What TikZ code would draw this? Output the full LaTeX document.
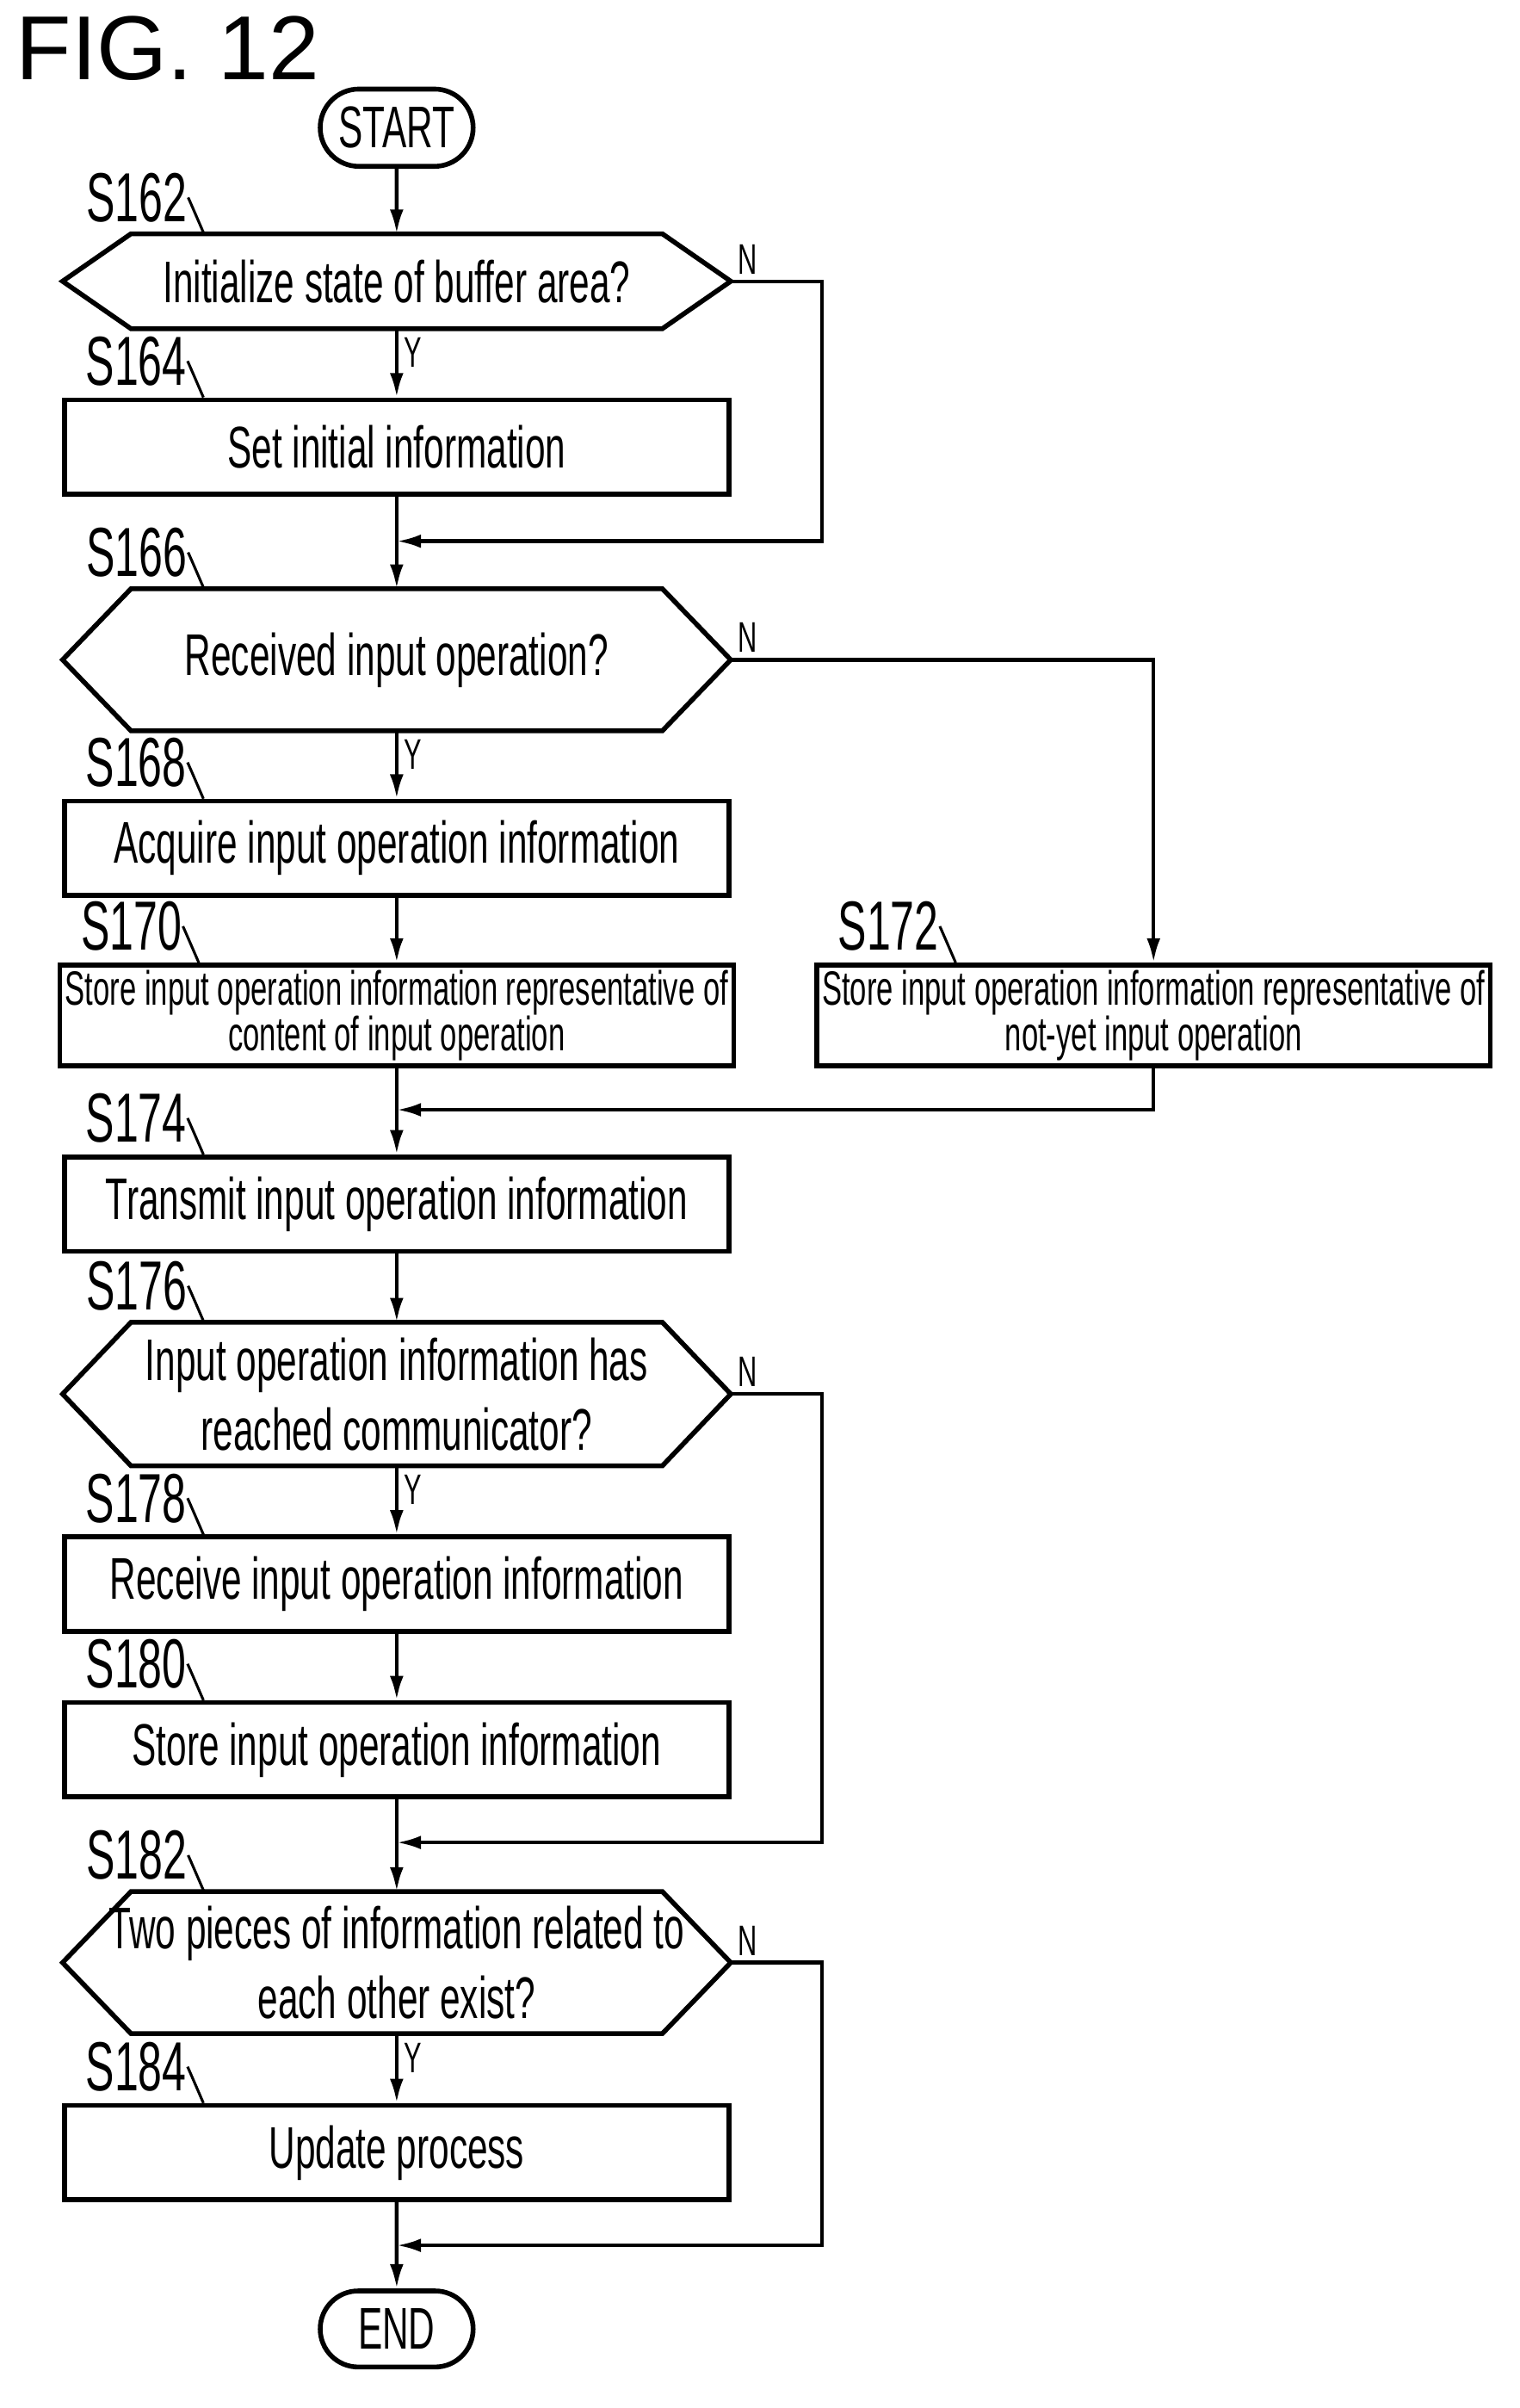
\documentclass[tikz,border=0pt]{standalone}
\usepackage{fontspec}
\newfontfamily\narrowfont[FakeStretch=0.62]{Liberation Sans}
\usetikzlibrary{arrows.meta,positioning,shapes.misc}

\tikzset{
  box/.style={draw, line width=0.9pt, minimum width=4.37cm, minimum height=0.62cm,
    font=\narrowfont\fontsize{11}{12}\selectfont, align=center, inner sep=1pt},
  smallbox/.style={box, font=\narrowfont\fontsize{9}{8.5}\selectfont},
  hexa/.style={minimum width=4.38cm, font=\narrowfont\fontsize{11}{13}\selectfont, align=center, inner sep=1pt},
  term/.style={draw, line width=0.9pt, rounded rectangle, minimum width=1.24cm, minimum height=0.46cm,
    font=\narrowfont\fontsize{11}{12}\selectfont},
  lbl/.style={font=\narrowfont\fontsize{13}{13}\selectfont, inner sep=0pt, anchor=south west},
  yn/.style={font=\narrowfont\fontsize{8}{8}\selectfont, inner sep=1pt},
  flow/.style={line width=0.7pt, -{Latex[length=0.16cm,width=0.09cm]}},
  line/.style={line width=0.7pt}
}
% hexagon decision drawn around a node
\newcommand{\hexdraw}[1]{\draw[line width=0.9pt] (#1.west) -- ([xshift=0.45cm]#1.north west) -- ([xshift=-0.45cm]#1.north east)
  -- (#1.east) -- ([xshift=-0.45cm]#1.south east) -- ([xshift=0.45cm]#1.south west) -- cycle;}
% step number with its small hook
\newcommand{\steplbl}[2]{\node[lbl] (#1-l) at ([xshift=0.15cm,yshift=0.07cm]#1.north west) {#2};
  \draw[line width=0.5pt] (#1-l.east) .. controls +(0.12,0) and +(0,0.08) .. ([xshift=0.93cm]#1.north west);}

\begin{document}
\begin{tikzpicture}[x=0.01cm,y=-0.01cm]
\useasboundingbox (0,0) rectangle (1000,1584);
\node[anchor=north west, font=\fontspec{Liberation Sans}\fontsize{17}{17}\selectfont, inner sep=0pt] (fig) at (10,10) {FIG. 12};

\node[term] (start) at (261,84) {START};
\node[hexa, minimum height=0.61cm] (s162) at (261,185) {Initialize state of buffer area?};
\node[box] (s164) at (261,294) {Set initial information};
\coordinate (m1) at (261,356);
\node[hexa, minimum height=0.92cm] (s166) at (261,434) {Received input operation?};
\node[box] (s168) at (261,558) {Acquire input operation information};
\node[smallbox] (s170) at (261,668) {Store input operation information representative of\\content of input operation};
\node[smallbox] (s172) at (759,668) {Store input operation information representative of\\not-yet input operation};
\coordinate (m2) at (261,730);
\node[box] (s174) at (261,792) {Transmit input operation information};
\node[hexa, minimum height=0.93cm] (s176) at (261,917) {Input operation information has\\reached communicator?};
\node[box] (s178) at (261,1042) {Receive input operation information};
\node[box] (s180) at (261,1151) {Store input operation information};
\coordinate (m3) at (261,1212);
\node[hexa, minimum height=0.92cm] (s182) at (261,1291) {Two pieces of information related to\\each other exist?};
\node[box] (s184) at (261,1416) {Update process};
\coordinate (m4) at (261,1477);
\node[term] (end) at (261,1532) {END};

\hexdraw{s162}
\hexdraw{s166}
\hexdraw{s176}
\hexdraw{s182}

\steplbl{s162}{S162}
\steplbl{s164}{S164}
\steplbl{s166}{S166}
\steplbl{s168}{S168}
\steplbl{s170}{S170}
\steplbl{s172}{S172}
\steplbl{s174}{S174}
\steplbl{s176}{S176}
\steplbl{s178}{S178}
\steplbl{s180}{S180}
\steplbl{s182}{S182}
\steplbl{s184}{S184}

% main flow
\draw[flow] (start) -- (s162);
\draw[flow] (s162) -- node[yn, right, pos=0.35] {Y} (s164);
\draw[flow] (s164) -- (s166);
\draw[flow] (s166) -- node[yn, right, pos=0.35] {Y} (s168);
\draw[flow] (s168) -- (s170);
\draw[flow] (s170) -- (s174);
\draw[flow] (s174) -- (s176);
\draw[flow] (s176) -- node[yn, right, pos=0.35] {Y} (s178);
\draw[flow] (s178) -- (s180);
\draw[flow] (s180) -- (s182);
\draw[flow] (s182) -- node[yn, right, pos=0.35] {Y} (s184);
\draw[flow] (s184) -- (end);

% N branches
\draw[flow] (s162.east) node[yn, above right] {N} -| (541,356) -- (m1);
\draw[flow] (s166.east) node[yn, above right] {N} -| (s172.north);
\draw[flow] (s172.south) |- (m2);
\draw[flow] (s176.east) node[yn, above right] {N} -| (541,1212) -- (m3);
\draw[flow] (s182.east) node[yn, above right] {N} -| (541,1477) -- (m4);
\end{tikzpicture}
\end{document}
